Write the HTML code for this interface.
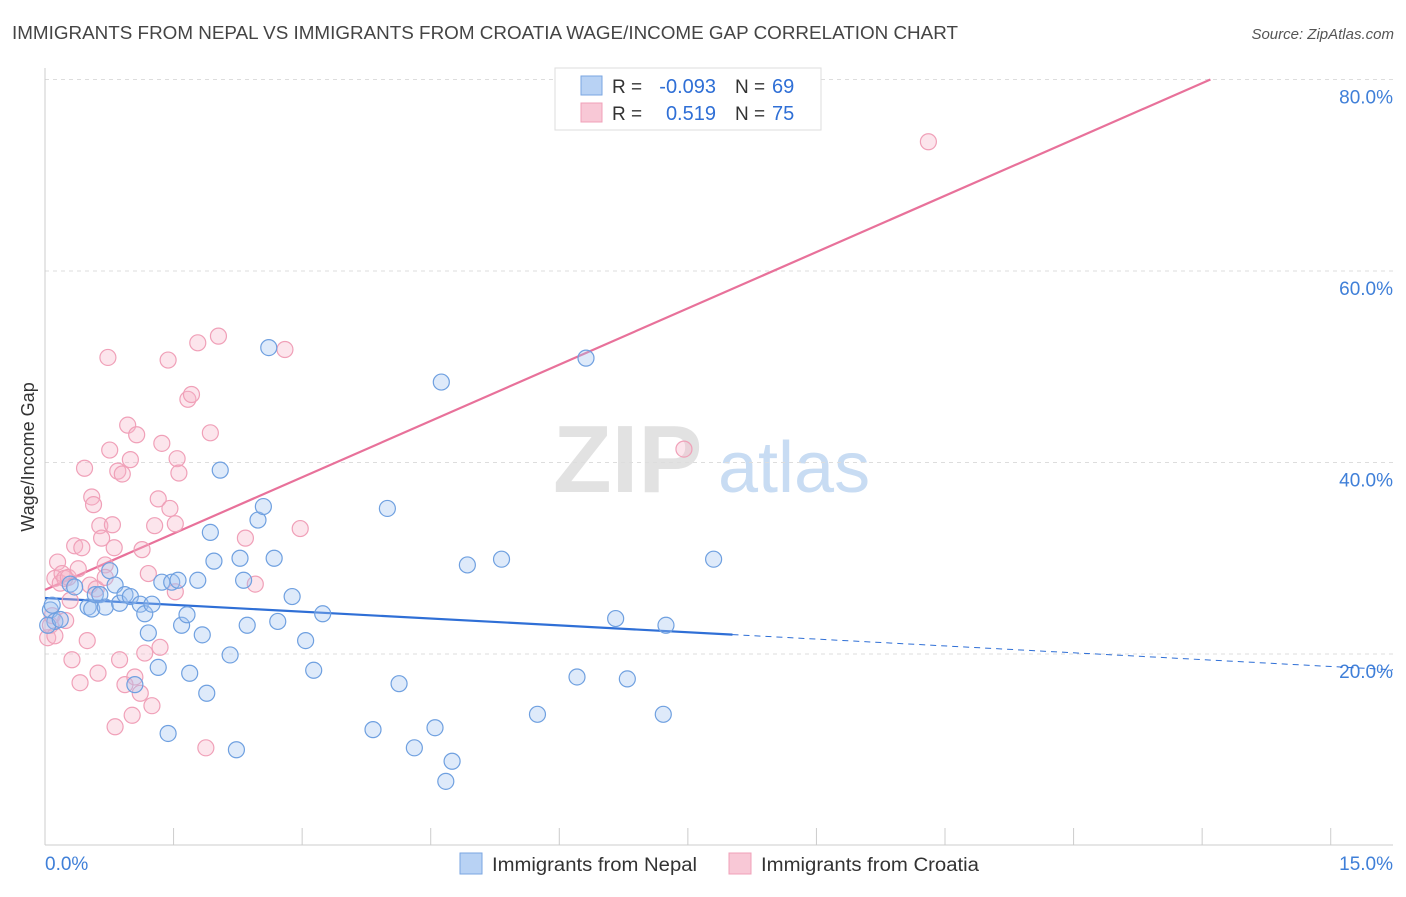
<!DOCTYPE html>
<html><head><meta charset="utf-8"><style>
body{margin:0;background:#fff;font-family:"Liberation Sans",sans-serif}
svg text{font-family:"Liberation Sans",sans-serif}
</style></head><body>
<svg id="chart" width="1406" height="892" viewBox="0 0 1406 892" xmlns="http://www.w3.org/2000/svg">
<text x="12" y="39" font-size="18" fill="#444" textLength="946" lengthAdjust="spacingAndGlyphs">IMMIGRANTS FROM NEPAL VS IMMIGRANTS FROM CROATIA WAGE/INCOME GAP CORRELATION CHART</text>
<text x="1394" y="39" font-size="15" fill="#555" text-anchor="end" font-style="italic">Source: ZipAtlas.com</text>
<g>
<text x="553" y="492" font-size="96" fill="#e2e2e2" font-family="Liberation Serif,serif" font-weight="bold">ZIP</text>
<text x="718" y="492" font-size="72" fill="#c8dcf3">atlas</text>
</g>
<g id="grid"></g>
<g id="axes"></g>
<text transform="translate(34,457) rotate(-90)" font-size="18" fill="#333" text-anchor="middle">Wage/Income Gap</text>
<g id="lines"></g>
<g id="pts"></g>
<g>
<rect x="555" y="68" width="266" height="62" fill="#fff" stroke="#ddd"/>
<rect x="581" y="76" width="21" height="19" fill="#b8d2f4" stroke="#7aa6e2"/>
<rect x="581" y="103" width="21" height="19" fill="#f8c8d6" stroke="#f0a0b8"/>
<text x="612" y="93" font-size="19" fill="#333">R =</text>
<text x="716" y="93" font-size="20" fill="#2f6fd6" text-anchor="end">-0.093</text>
<text x="735" y="93" font-size="19" fill="#333">N =</text>
<text x="772" y="93" font-size="20" fill="#2f6fd6">69</text>
<text x="612" y="120" font-size="19" fill="#333">R =</text>
<text x="716" y="120" font-size="20" fill="#2f6fd6" text-anchor="end">0.519</text>
<text x="735" y="120" font-size="19" fill="#333">N =</text>
<text x="772" y="120" font-size="20" fill="#2f6fd6">75</text>
</g>
<g>
<rect x="460" y="853" width="22" height="21" fill="#b8d2f4" stroke="#7aa6e2"/>
<text x="492" y="871" font-size="19" fill="#333" textLength="205" lengthAdjust="spacingAndGlyphs">Immigrants from Nepal</text>
<rect x="729" y="853" width="22" height="21" fill="#f8c8d6" stroke="#f0a0b8"/>
<text x="761" y="871" font-size="19" fill="#333" textLength="218" lengthAdjust="spacingAndGlyphs">Immigrants from Croatia</text>
</g>
</svg>
<script>
const nepalX=[0.06,0.11,0.08,0.03,0.17,0.28,0.33,0.48,0.52,0.56,0.61,0.67,0.72,0.78,0.83,0.89,0.95,1.00,1.06,1.11,1.15,1.19,1.26,1.30,1.37,1.41,1.48,1.52,1.58,1.61,1.70,1.75,1.80,1.84,1.88,1.95,2.06,2.13,2.17,2.21,2.25,2.37,2.43,2.49,2.55,2.59,2.75,2.90,2.99,3.09,3.65,3.81,3.94,4.11,4.34,4.41,4.46,4.53,4.70,5.08,5.48,5.92,6.02,6.35,6.48,6.88,6.91,7.44];
const nepalY=[24.6,23.4,25.1,23.0,23.6,27.3,27.0,24.9,24.7,26.2,26.2,24.9,28.7,27.2,25.3,26.2,26.0,16.8,25.2,24.2,22.2,25.2,18.6,27.5,11.7,27.5,27.7,23.0,24.1,17.99,27.7,22.0,15.9,32.7,29.7,39.2,19.9,10.0,30.0,27.7,23.0,33.99,35.4,52.0,30.0,23.4,26.0,21.4,18.3,24.2,12.1,35.2,16.9,10.2,12.3,48.4,6.7,8.8,29.3,29.9,13.7,17.6,50.9,23.7,17.4,13.7,23.0,29.9];
const croatiaX=[0.03,0.06,0.08,0.11,0.14,0.17,0.19,0.22,0.26,0.28,0.30,0.33,0.37,0.39,0.41,0.44,0.47,0.50,0.52,0.54,0.57,0.59,0.61,0.63,0.67,0.70,0.72,0.75,0.77,0.78,0.81,0.86,0.89,0.92,0.95,0.97,1.00,1.02,1.06,1.08,1.11,1.15,1.19,1.22,1.26,1.28,1.30,1.37,1.39,1.45,1.47,1.49,1.59,1.63,1.70,1.79,1.84,1.93,2.23,2.34,2.67,2.84,7.11,9.83,1.45,0.11,0.67,0.23,0.83];
const croatiaY=[21.7,23.0,24.0,27.9,29.6,27.4,28.4,27.9,28.0,25.6,19.4,31.3,28.9,17.0,31.1,39.4,21.4,27.2,36.4,35.6,26.8,18.0,33.4,32.1,29.3,50.97,41.3,33.5,31.1,12.4,39.1,38.8,16.8,43.9,40.3,13.6,17.6,42.9,15.9,30.9,20.1,28.4,14.6,33.4,36.2,20.7,42.0,50.7,35.2,33.6,40.4,38.9,46.6,47.1,52.5,10.2,43.1,53.2,32.1,27.3,51.8,33.1,41.4,73.5,26.5,21.9,28.0,23.5,19.4];
const xTicks=[0,1.4307,2.8614,4.2921,5.7228,7.1535,8.5842,10.0149,11.4456,12.8763,14.307];
const yTicks=[20,40,60,80];
const yTickLabels=["20.0%","40.0%","60.0%","80.0%"];
const nepalFit=[25.85,-0.5];
const croatiaFit=[26.7,4.11];
const X0=45,X1=1393,XMAX=15,Y0=845.5,PPY=9.575;
function sx(v){return X0+v/XMAX*(X1-X0);}
function sy(v){return Y0-v*PPY;}
const NS="http://www.w3.org/2000/svg";
function mk(tag,attrs,parent){const e=document.createElementNS(NS,tag);for(const k in attrs)e.setAttribute(k,attrs[k]);parent.appendChild(e);return e;}
const grid=document.getElementById('grid'),axes=document.getElementById('axes'),lines=document.getElementById('lines'),pts=document.getElementById('pts');
yTicks.forEach((t,i)=>{
 const l=mk('line',{x1:X0,x2:X1,y1:sy(t),y2:sy(t),stroke:'#ddd','stroke-dasharray':'4,4'},grid);
 
 
 const tx=mk('text',{x:1393,y:sy(t)+24,'font-size':19,fill:'#3f7fd8','text-anchor':'end'},axes);
 tx.textContent=yTickLabels[i];
 
 
});
const ax=mk('line',{x1:X0,x2:X1,y1:845,y2:845,stroke:'#ccc'},axes);


const ay=mk('line',{x1:X0,x2:X0,y1:68,y2:845,stroke:'#ccc'},axes);


xTicks.forEach(t=>{
 const l=mk('line',{x1:sx(t),x2:sx(t),y1:828,y2:845,stroke:'#ccc'},axes);
 
 
});
const xl0=mk('text',{x:45,y:870,'font-size':19,fill:'#3f7fd8'},axes);xl0.textContent='0.0%';


const xl1=mk('text',{x:1393,y:870,'font-size':19,fill:'#3f7fd8','text-anchor':'end'},axes);xl1.textContent='15.0%';


function dots(xs,ys,fill,stroke,name){xs.forEach((x,i)=>{
 const c=mk('circle',{cx:sx(x),cy:sy(ys[i]),r:8,fill:fill,stroke:stroke,'stroke-width':1.2},pts);
 
 
});}
dots(croatiaX,croatiaY,'rgba(246,180,200,0.35)','#f0a0b8','croatia-point');
dots(nepalX,nepalY,'rgba(160,195,240,0.35)','#6fa0e0','nepal-point');
const xEndC=(80-croatiaFit[0])/croatiaFit[1];
const pl=mk('line',{x1:sx(0),y1:sy(croatiaFit[0]),x2:sx(xEndC),y2:sy(80),stroke:'#e8719a','stroke-width':2.2},lines);


const bl=mk('line',{x1:sx(0),y1:sy(nepalFit[0]),x2:sx(7.65),y2:sy(nepalFit[0]+nepalFit[1]*7.65),stroke:'#2f6fd6','stroke-width':2.2},lines);


const bd=mk('line',{x1:sx(7.65),y1:sy(nepalFit[0]+nepalFit[1]*7.65),x2:sx(15),y2:sy(nepalFit[0]+nepalFit[1]*15),stroke:'#2f6fd6','stroke-width':1,'stroke-dasharray':'6,5'},lines);


</script>
</body></html>
